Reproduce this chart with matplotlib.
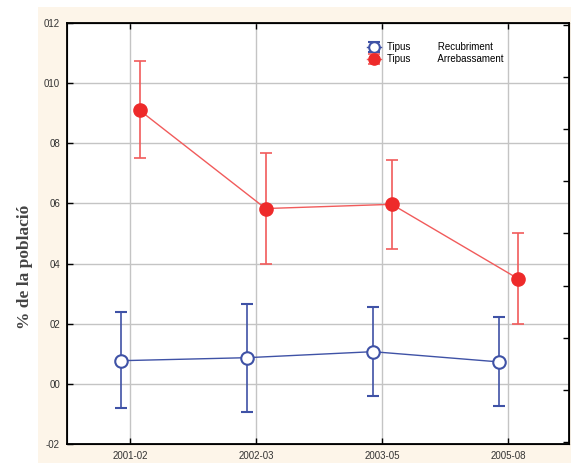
import matplotlib.pyplot as plt
import numpy as np
from matplotlib.patches import Rectangle

# data (fraction of the population)
periods = ['2001-02', '2002-03', '2003-05', '2005-08']
recub_mean = [0.0077, 0.0087, 0.0107, 0.0073]
recub_hi = [0.0240, 0.0267, 0.0257, 0.0223]
recub_lo = [-0.0080, -0.0093, -0.0040, -0.0073]
arreb_mean = [0.0910, 0.0583, 0.0597, 0.0350]
arreb_hi = [0.1073, 0.0767, 0.0743, 0.0500]
arreb_lo = [0.0750, 0.0400, 0.0447, 0.0200]
ytick_vals = [-0.02, 0.0, 0.02, 0.04, 0.06, 0.08, 0.10, 0.12]
ytick_labels = ['-02', '00', '02', '04', '06', '08', '010', '012']

blue = '#3f52a6'
red = '#ee2a2a'
red_line = '#f15b5b'
x = np.arange(len(periods))

fig = plt.figure(figsize=(5.71, 4.63), dpi=100, facecolor='white')
bg = Rectangle((38 / 571, 0), 1, 1 - 7 / 463, transform=fig.transFigure,
               facecolor='#fdf5e9', edgecolor='none', zorder=-10)
fig.add_artist(bg)
ax = fig.add_axes([67 / 571, 1 - 444 / 463, 502 / 571, 421 / 463])
ax.set_facecolor('white')

# blue series, shifted a bit left
xb = x - 0.075
yerr_b = [np.array(recub_mean) - np.array(recub_lo), np.array(recub_hi) - np.array(recub_mean)]
eb_b = ax.errorbar(xb, recub_mean, yerr=yerr_b, color=blue, lw=1.0, elinewidth=1.2, capsize=4.5,
                   capthick=1.2, marker='o', ms=9, mfc='white', mec=blue, mew=1.5, zorder=3)
# red series, shifted a bit right
xr = x + 0.075
yerr_r = [np.array(arreb_mean) - np.array(arreb_lo), np.array(arreb_hi) - np.array(arreb_mean)]
eb_r = ax.errorbar(xr, arreb_mean, yerr=yerr_r, color=red_line, ecolor=red_line, lw=1.0,
                   elinewidth=1.2, capsize=4.5, capthick=1.2, marker='o', ms=9.5,
                   mfc=red, mec=red, zorder=3)

ax.set_xlim(-0.5, 3.48)
ax.set_ylim(-0.02, 0.12)
ax.set_xticks(x)
ax.set_xticklabels(periods, fontsize=7, family='Liberation Sans', color='#333333')
ax.set_yticks(ytick_vals)
ax.set_yticklabels(ytick_labels, fontsize=7, family='Liberation Sans', color='#333333')
ax.grid(True, color='#c4c4c4', lw=1.0)
ax.set_axisbelow(True)
ax.tick_params(axis='both', direction='in', length=4, width=1, top=True, pad=5)
for s in ax.spines.values():
    s.set_linewidth(1.3)

# right-hand axis with its own unlabelled ticks
ax2 = ax.twinx()
ax2.set_ylim(-0.04, 8.04)
ax2.set_yticks(range(9))
ax2.set_yticklabels([])
ax2.tick_params(axis='y', direction='in', length=4, width=1)

fig.text(25 / 571, 1 - 267 / 463, '% de la població', rotation=90, ha='center', va='center',
         fontsize=12.5, fontweight='bold', family='Liberation Serif', color='#444444')

# legend uses the errorbar containers so the whiskers show
ax.legend([eb_b, eb_r], ['Tipus          Recubriment', 'Tipus          Arrebassament'],
          loc='upper left', bbox_to_anchor=(0.58, 0.975), frameon=False,
          prop={'family': 'Liberation Sans', 'size': 7}, handlelength=1.5,
          handletextpad=0.6, labelspacing=0.2, markerscale=0.85)

fig.savefig('out.png', dpi=100, facecolor=fig.get_facecolor())
